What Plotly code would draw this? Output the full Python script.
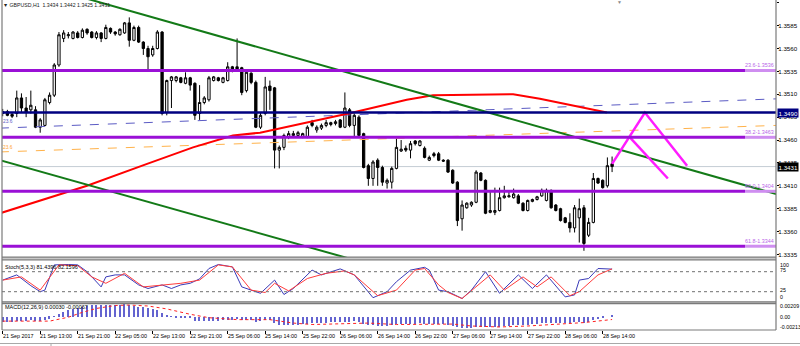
import plotly.graph_objects as go

# ---------------- data ----------------
bars = list(range(131))
opens = [1.3489,1.3491,1.3488,1.3489,1.3506,1.3495,1.3493,1.3493,1.3474,1.3476,
         1.3501,1.3509,1.3542,1.3571,1.3574,1.3571,1.3577,1.3572,1.3581,1.3578,
         1.3572,1.3577,1.3571,1.3582,1.3578,1.3575,1.3577,1.3588,1.3569,1.3583,
         1.3567,1.3560,1.3553,1.3560,1.3578,1.3490,1.3525,1.3525,1.3528,1.3522,
         1.3528,1.3522,1.3489,1.3501,1.3504,1.3525,1.3528,1.3523,1.3525,1.3540,
         1.3540,1.3539,1.3514,1.3533,1.3523,1.3474,1.3489,1.3519,1.3517,1.3449,
         1.3452,1.3463,1.3465,1.3465,1.3464,1.3463,1.3479,1.3471,1.3473,1.3476,
         1.3477,1.3478,1.3482,1.3474,1.3493,1.3476,1.3485,1.3467,1.3432,1.3418,
         1.3438,1.3430,1.3413,1.3414,1.3429,1.3448,1.3451,1.3449,1.3459,1.3454,
         1.3451,1.3438,1.3445,1.3445,1.3438,1.3438,1.3427,1.3414,1.3374,1.3386,
         1.3389,1.3392,1.3424,1.3416,1.3381,1.3381,1.3383,1.3397,1.3398,1.3397,
         1.3399,1.3391,1.3383,1.3393,1.3395,1.3399,1.3394,1.3405,1.3389,1.3385,
         1.3375,1.3370,1.3364,1.3375,1.3386,1.3356,1.3370,1.3418,1.3416,1.3410,
         1.3434]
highs = [1.3494,1.3493,1.3490,1.3514,1.3511,1.3507,1.3514,1.3497,1.3484,1.3506,
         1.3512,1.3544,1.3578,1.3580,1.3578,1.3579,1.3579,1.3582,1.3582,1.3579,
         1.3579,1.3578,1.3586,1.3583,1.3579,1.3582,1.3589,1.3594,1.3585,1.3585,
         1.3568,1.3563,1.3563,1.3580,1.3579,1.3526,1.3530,1.3530,1.3529,1.3534,
         1.3529,1.3523,1.3520,1.3508,1.3530,1.3530,1.3529,1.3529,1.3545,1.3541,
         1.3571,1.3540,1.3536,1.3534,1.3525,1.3490,1.3529,1.3525,1.3518,1.3454,
         1.3467,1.3470,1.3470,1.3470,1.3468,1.3476,1.3482,1.3476,1.3478,1.3482,
         1.3480,1.3482,1.3483,1.3512,1.3495,1.3489,1.3487,1.3468,1.3434,1.3438,
         1.3440,1.3432,1.3418,1.3431,1.3462,1.3460,1.3454,1.3459,1.3460,1.3460,
         1.3453,1.3443,1.3447,1.3447,1.3439,1.3439,1.3428,1.3415,1.3394,1.3392,
         1.3393,1.3427,1.3425,1.3417,1.3405,1.3408,1.3408,1.3410,1.3405,1.3407,
         1.3401,1.3392,1.3395,1.3396,1.3399,1.3407,1.3407,1.3406,1.3390,1.3386,
         1.3376,1.3380,1.3389,1.3396,1.3389,1.3375,1.3424,1.3419,1.3417,1.3441,
         1.3442]
lows = [1.3486,1.3486,1.3484,1.3485,1.3490,1.3485,1.3489,1.3473,1.3468,1.3475,
        1.3499,1.3507,1.3540,1.3567,1.3571,1.3570,1.3571,1.3571,1.3575,1.3571,
        1.3570,1.3567,1.3570,1.3576,1.3574,1.3574,1.3576,1.3562,1.3568,1.3566,
        1.3553,1.3536,1.3551,1.3559,1.3487,1.3487,1.3495,1.3523,1.3522,1.3521,
        1.3514,1.3482,1.3482,1.3499,1.3502,1.3524,1.3524,1.3522,1.3524,1.3534,
        1.3535,1.3509,1.3512,1.3521,1.3473,1.3472,1.3487,1.3493,1.3429,1.3429,
        1.3449,1.3461,1.3463,1.3463,1.3462,1.3462,1.3474,1.3468,1.3471,1.3474,
        1.3475,1.3476,1.3473,1.3473,1.3474,1.3463,1.3463,1.3429,1.3410,1.3410,
        1.3410,1.3410,1.3407,1.3407,1.3428,1.3447,1.3447,1.3440,1.3454,1.3453,
        1.3440,1.3437,1.3441,1.3437,1.3436,1.3424,1.3412,1.3366,1.3361,1.3385,
        1.3387,1.3391,1.3415,1.3379,1.3380,1.3378,1.3382,1.3396,1.3397,1.3396,
        1.3390,1.3382,1.3382,1.3392,1.3394,1.3398,1.3393,1.3385,1.3382,1.3371,
        1.3369,1.3359,1.3359,1.3348,1.3339,1.3354,1.3369,1.3412,1.3407,1.3408,
        1.3425]
closes = [1.3491,1.3487,1.3486,1.3506,1.3495,1.3490,1.3498,1.3474,1.3482,1.3504,
          1.3509,1.3542,1.3575,1.3577,1.3575,1.3578,1.3572,1.3580,1.3577,1.3572,
          1.3577,1.3571,1.3583,1.3578,1.3576,1.3581,1.3588,1.3569,1.3583,1.3567,
          1.3560,1.3551,1.3560,1.3578,1.3489,1.3525,1.3529,1.3529,1.3523,1.3528,
          1.3520,1.3487,1.3501,1.3506,1.3528,1.3529,1.3525,1.3528,1.3540,1.3536,
          1.3536,1.3512,1.3534,1.3523,1.3474,1.3487,1.3518,1.3514,1.3449,1.3452,
          1.3465,1.3467,1.3467,1.3468,1.3467,1.3474,1.3476,1.3474,1.3476,1.3479,
          1.3479,1.3480,1.3474,1.3495,1.3476,1.3487,1.3465,1.3430,1.3418,1.3436,
          1.3430,1.3414,1.3416,1.3429,1.3452,1.3450,1.3449,1.3456,1.3456,1.3459,
          1.3441,1.3441,1.3443,1.3438,1.3437,1.3425,1.3413,1.3372,1.3389,1.3391,
          1.3392,1.3425,1.3416,1.3380,1.3383,1.3383,1.3397,1.3399,1.3399,1.3401,
          1.3391,1.3383,1.3394,1.3395,1.3398,1.3405,1.3405,1.3386,1.3383,1.3372,
          1.3370,1.3364,1.3386,1.3385,1.3347,1.3370,1.3418,1.3413,1.3408,1.3432,
          1.3431]

time_tick_bars = [0, 8, 16, 24, 32, 40, 48, 56, 64, 72, 80, 88, 96, 104, 112, 120, 128]
time_labels = ["21 Sep 2017", "21 Sep 13:00", "21 Sep 21:00", "22 Sep 05:00", "22 Sep 13:00",
               "22 Sep 21:00", "25 Sep 06:00", "25 Sep 14:00", "25 Sep 22:00", "26 Sep 06:00",
               "26 Sep 14:00", "26 Sep 22:00", "27 Sep 06:00", "27 Sep 14:00", "27 Sep 22:00",
               "28 Sep 06:00", "28 Sep 14:00"]
price_ticks = [1.3335, 1.3360, 1.3385, 1.3410, 1.3435, 1.3460, 1.3485, 1.3510,
               1.3535, 1.3560, 1.3585, 1.3610]

fib_levels = [1.3536, 1.3463, 1.3404, 1.3344]
fib_labels = ["23.6-1.3536", "38.2-1.3463", "50.0-1.3404", "61.8-1.3344"]
resistance_level = 1.3490
bid_price = 1.3431

ma_bars = [-0.6, 18.0, 30.8, 40.6, 49.1, 54.9, 74.7, 86.2, 91.8, 108.9, 114.6, 128.9]
ma_vals = [1.3380, 1.3410, 1.3434, 1.3452, 1.3465, 1.3468, 1.3490, 1.3504, 1.3509, 1.3510, 1.3505, 1.3490]

fib_blue_bars = [-0.6, 165.0]
fib_blue_vals = [1.3473, 1.3505]
fib_orange_bars = [-0.6, 165.0]
fib_orange_vals = [1.3447, 1.3476]

chan_up_bars = [10.0, 165.0]
chan_up_vals = [1.3626, 1.3401]
chan_dn_bars = [-0.6, 75.0]
chan_dn_vals = [1.3438, 1.3329]

zz1_bars = [130.0, 137.0, 146.0]
zz1_vals = [1.3434, 1.3490, 1.3432]
zz2_bars = [133.8, 141.9]
zz2_vals = [1.3463, 1.3418]

stoch_k_bars = [0, 3, 6, 8, 9, 11, 14, 16, 18, 21, 22, 24, 26, 29, 31, 34, 36, 38, 40, 42, 44, 46,
                49, 51, 55, 58, 60, 62, 66, 68, 72, 75, 79, 82, 84, 87, 90, 91, 93, 95, 98, 100,
                103, 106, 110, 113, 116, 120, 122, 123, 125, 127, 130]
stoch_k = [54, 67, 40, 25, 29, 92, 93, 92, 75, 37, 62, 67, 67, 42, 33, 42, 33, 42, 46, 57, 83, 93,
           87, 37, 21, 54, 18, 33, 79, 67, 82, 67, 10, 25, 50, 79, 86, 79, 29, 25, 8, 29,
           75, 21, 67, 33, 67, 12, 17, 54, 58, 83, 81.44]
stoch_d_bars = [0, 4, 8, 12, 16, 19, 22, 26, 30, 34, 38, 42, 46, 49, 53, 56, 58, 61, 65, 69, 73, 75,
                80, 84, 88, 90, 93, 95, 98, 104, 107, 111, 114, 117, 121, 123, 127, 130]
stoch_d = [54, 62, 29, 92, 90, 62, 46, 71, 37, 42, 46, 54, 92, 87, 29, 23, 46, 27, 58, 71, 77, 67,
           15, 29, 79, 83, 42, 23, 8, 67, 29, 62, 37, 62, 15, 25, 67, 82.16]

macd = [-0.0011,-0.0011,-0.0010,-0.0008,-0.0008,-0.0008,-0.0007,-0.0008,-0.0008,-0.0006,-0.0004,
        0.0001,0.0006,0.0010,0.0013,0.0016,0.0018,0.0020,0.0022,0.0023,0.0023,
        0.0023,0.0024,0.0024,0.0024,0.0024,0.0025,0.0023,0.0022,0.0020,0.0019,
        0.0017,0.0015,0.0014,0.0008,0.0004,0.0001,-0.0001,-0.0002,-0.0002,-0.0003,
        -0.0008,-0.0009,-0.0009,-0.0008,-0.0008,-0.0008,-0.0007,-0.0006,-0.0006,-0.0005,
        -0.0007,-0.0007,-0.0007,-0.0010,-0.0009,-0.0006,-0.0006,-0.0014,-0.0017,-0.0018,
        -0.0018,-0.0018,-0.0017,-0.0016,-0.0015,-0.0014,-0.0014,-0.0013,-0.0013,-0.0012,
        -0.0012,-0.0012,-0.0010,-0.0010,-0.0009,-0.0011,-0.0015,-0.0018,-0.0018,-0.0019,
        -0.0019,-0.0019,-0.0018,-0.0016,-0.0016,-0.0016,-0.0015,-0.0015,-0.0014,-0.0015,
        -0.0015,-0.0015,-0.0016,-0.0016,-0.0017,-0.0019,-0.0022,-0.0023,-0.0023,-0.0023,
        -0.0021,-0.0021,-0.0022,-0.0022,-0.0022,-0.0021,-0.0020,-0.0019,-0.0018,-0.0018,
        -0.0018,-0.0017,-0.0016,-0.0015,-0.0014,-0.0013,-0.0013,-0.0013,-0.0013,-0.0013,
        -0.0014,-0.0012,-0.0011,-0.0013,-0.0012,-0.0007,-0.0005,-0.0003,0.0000,0.0003]
signal_bars = [0, 10, 14, 17, 20, 24, 27, 31, 35, 40, 44, 50, 57, 62, 66, 72, 78, 84, 90, 96,
               100, 106, 112, 118, 124, 130]
signal = [-0.0010, -0.0010, -0.0002, 0.0008, 0.0016, 0.0022, 0.0023, 0.0021, 0.0015, 0.0004,
          -0.0003, -0.0007, -0.0007, -0.0014, -0.0017, -0.0015, -0.0014, -0.0017, -0.0016, -0.0016,
          -0.0020, -0.0022, -0.0020, -0.0016, -0.0013, -0.00067]

# ---------------- layout helpers ----------------
W, H = 800, 346
ML, MR, MT, MB = 2, 24, 0, 16
PW, PH = W - ML - MR, H - MT - MB
def px_x(px):
    return (px - ML) / PW
def px_y(py):
    return (PH - (py - MT)) / PH

FONT = "Liberation Sans, Arial, sans-serif"
PURPLE = "#9a10d6"
PURPLE_LIGHT = "#cf8ef0"
GREEN = "#137a17"

fig = go.Figure()

fig.add_trace(go.Candlestick(
    x=bars, open=opens, high=highs, low=lows, close=closes,
    increasing=dict(line=dict(color="black", width=1), fillcolor="white"),
    decreasing=dict(line=dict(color="black", width=1), fillcolor="black"),
    whiskerwidth=0, xaxis="x", yaxis="y", hoverinfo="skip"))

fig.add_trace(go.Scatter(x=fib_blue_bars, y=fib_blue_vals, mode="lines",
                         line=dict(color="#5b5bc4", width=1, dash="dash"), yaxis="y"))
fig.add_trace(go.Scatter(x=fib_orange_bars, y=fib_orange_vals, mode="lines",
                         line=dict(color="#ffb24a", width=1, dash="dash"), yaxis="y"))
fig.add_trace(go.Scatter(x=ma_bars, y=ma_vals, mode="lines",
                         line=dict(color="#ff0000", width=2), yaxis="y"))
fig.add_trace(go.Scatter(x=chan_up_bars, y=chan_up_vals, mode="lines",
                         line=dict(color=GREEN, width=2), yaxis="y"))
fig.add_trace(go.Scatter(x=chan_dn_bars, y=chan_dn_vals, mode="lines",
                         line=dict(color=GREEN, width=2), yaxis="y"))
fig.add_trace(go.Scatter(x=zz1_bars, y=zz1_vals, mode="lines",
                         line=dict(color="#ff1cff", width=2.5), yaxis="y"))
fig.add_trace(go.Scatter(x=zz2_bars, y=zz2_vals, mode="lines",
                         line=dict(color="#ff1cff", width=2.5), yaxis="y"))

# stochastic
fig.add_trace(go.Scatter(x=stoch_k_bars, y=stoch_k, mode="lines",
                         line=dict(color="#3a3ab8", width=1), yaxis="y2"))
fig.add_trace(go.Scatter(x=stoch_d_bars, y=stoch_d, mode="lines",
                         line=dict(color="#ff3c3c", width=1), yaxis="y2"))

# MACD
fig.add_trace(go.Bar(x=bars, y=macd, width=0.3, marker=dict(color="#6464d0", line=dict(width=0)),
                     yaxis="y3"))
fig.add_trace(go.Scatter(x=signal_bars, y=signal, mode="lines",
                         line=dict(color="#ff2020", width=1, dash="dot"), yaxis="y3"))

shapes = []
for lv in fib_levels:
    shapes.append(dict(type="line", xref="paper", yref="y", x0=0, x1=px_x(745), y0=lv, y1=lv,
                       line=dict(color=PURPLE, width=3)))
    shapes.append(dict(type="line", xref="paper", yref="y", x0=px_x(745), x1=1, y0=lv, y1=lv,
                       line=dict(color=PURPLE_LIGHT, width=3)))
shapes.append(dict(type="line", xref="paper", yref="y", x0=0, x1=1,
                   y0=resistance_level, y1=resistance_level, line=dict(color="#000080", width=2.5)))
shapes.append(dict(type="line", xref="paper", yref="y", x0=0, x1=1, y0=bid_price, y1=bid_price,
                   line=dict(color="#c4ccd4", width=1), layer="below"))
for lv in (75, 25):
    shapes.append(dict(type="line", xref="paper", yref="y2", x0=0, x1=1, y0=lv, y1=lv,
                       line=dict(color="#707070", width=1, dash="dot")))

BORDER = "#7a7a7a"
shapes.append(dict(type="rect", xref="paper", yref="paper", x0=0, x1=1,
                   y0=px_y(259.5), y1=px_y(257.2), fillcolor="#c8c8c8", line=dict(width=0)))
shapes.append(dict(type="rect", xref="paper", yref="paper", x0=0, x1=1,
                   y0=px_y(303.5), y1=px_y(301.8), fillcolor="#c8c8c8", line=dict(width=0)))
for py in (257.2, 259.8, 301.8, 303.6, 330):
    shapes.append(dict(type="line", xref="paper", yref="paper", x0=0, x1=1, y0=px_y(py), y1=px_y(py),
                       line=dict(color=BORDER, width=1.2)))
for pxv in (0, 1):
    shapes.append(dict(type="line", xref="paper", yref="paper", x0=pxv, x1=pxv, y0=0, y1=1,
                       line=dict(color=BORDER, width=1.2)))
shapes.append(dict(type="line", xref="paper", yref="paper", x0=px_x(0), x1=px_x(800),
                   y0=px_y(343.5), y1=px_y(343.5), line=dict(color="#a8a8a8", width=1)))
shapes.append(dict(type="line", xref="paper", yref="paper", x0=px_x(51), x1=px_x(51),
                   y0=px_y(343.5), y1=px_y(346), line=dict(color="#a8a8a8", width=1)))

annotations = []
def txt(text, x, y, size=5.5, color="#000000", xanchor="left", yanchor="middle",
        xref="paper", yref="paper", **kw):
    annotations.append(dict(text=text, x=x, y=y, xref=xref, yref=yref, showarrow=False,
                            xanchor=xanchor, yanchor=yanchor,
                            font=dict(family=FONT, size=size, color=color), **kw))

txt("▼ GBPUSD,H1  1.3434 1.3442 1.3425 1.3431", px_x(1), px_y(4.5), size=5.2, color="#202020")
txt("▼", px_x(619), px_y(2.5), size=5, color="#8a8a8a", xanchor="center")
txt("23.6", px_x(1), px_y(121), size=4.8, color="#5b5bc4")
txt("23.6", px_x(1), px_y(147), size=4.8, color="#ff9f30")
for lv, lab in zip(fib_levels, fib_labels):
    txt(lab, px_x(776), lv, size=5.4, color="#b865e8", xanchor="right", yanchor="bottom",
        yref="y")
txt("1.3490", px_x(777), resistance_level, size=6.2, color="white", yref="y",
    bgcolor="#000080", borderpad=0.5)
txt("1.3431", px_x(777), bid_price, size=6.2, color="white", yref="y",
    bgcolor="#000000", borderpad=0.5)

txt("Stoch(5,3,3) 81.4396 82.1596", px_x(3), px_y(266.5), size=5.5)
txt("MACD(12,26,9) 0.00030 -0.00067", px_x(3), px_y(306.5), size=5.5)
for lab, py in (("100", 265), ("75", 269.5), ("25", 290), ("0", 297)):
    txt(lab, px_x(778), px_y(py), size=5.3)
for lab, py in (("0.00209", 306), ("0.00", 316.7), ("-0.00213", 326.7)):
    txt(lab, px_x(777.5), px_y(py), size=5.3)
for b, lab in zip(time_tick_bars, time_labels):
    txt(lab, b, px_y(336), size=5.4, xref="x", xshift=-2)

fig.update_layout(
    width=W, height=H, margin=dict(l=ML, r=MR, t=MT, b=MB),
    paper_bgcolor="white", plot_bgcolor="white", showlegend=False,
    bargap=0, shapes=shapes, annotations=annotations,
    font=dict(family=FONT, size=6, color="#000000"),
    xaxis=dict(domain=[0, 1], range=[-0.15, 164.97], anchor="y3", showgrid=False, zeroline=False,
               showline=False, tickmode="array", tickvals=time_tick_bars, showticklabels=False,
               ticks="outside", ticklen=3, tickcolor="#000000", tickwidth=1,
               rangeslider=dict(visible=False)),
    yaxis=dict(domain=[px_y(257.2), 1], range=[1.3332, 1.3613], side="right", anchor="x",
               showgrid=False, zeroline=False, showline=False, tickmode="array",
               tickvals=price_ticks, ticktext=[f"{v:.4f}" for v in price_ticks],
               ticks="outside", ticklen=2, tickcolor="#000000", ticklabelstandoff=-2,
               tickfont=dict(family=FONT, size=6.2, color="#000000")),
    yaxis2=dict(domain=[px_y(302), px_y(260)], range=[-0.75, 104.25], anchor="x",
                showgrid=False, zeroline=False, showticklabels=False, showline=False),
    yaxis3=dict(domain=[0, px_y(303.6)], range=[-0.00282, 0.00259], anchor="x",
                showgrid=False, zeroline=False, showticklabels=False, showline=False),
)

fig.write_html("out.html")
